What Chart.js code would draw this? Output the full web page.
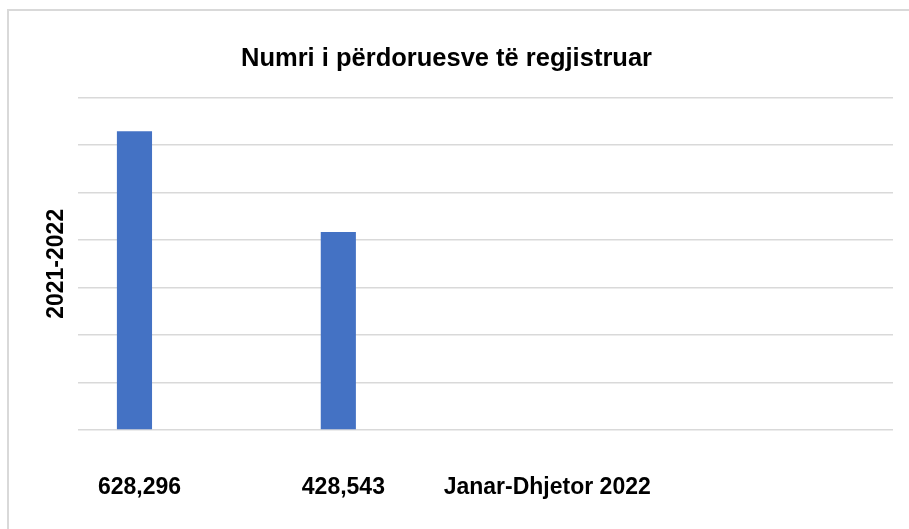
<!DOCTYPE html>
<html lang="sq">
<head>
    <meta charset="UTF-8">
    <title>Numri i përdoruesve të regjistruar</title>
    <script src="https://cdn.jsdelivr.net/npm/chart.js"></script>
    <style>
        body { margin: 0; background: #fff; overflow: hidden; }
        #frame { position: absolute; left: 7px; top: 9px; width: 1000px; height: 700px; border: 2px solid #d9d9d9; }
        #wrap { position: absolute; left: 0; top: 0; width: 909px; height: 529px; }
    </style>
</head>
<body>
    <div id="frame"></div>
    <div id="wrap"><canvas id="usersChart"></canvas></div>

    <script>
        // te dhenat
        const categories = ['628,296', '428,543', 'Janar-Dhjetor 2022', ''];
        const registeredUsers = [629000, 417000, null, null];
        const secondSeries = [null, null, null, null];
        const yTicks = [0, 100000, 200000, 300000, 400000, 500000, 600000, 700000];

        const fontFamily = "'Liberation Sans', Arial, sans-serif";

        const ctx = document.getElementById('usersChart').getContext('2d');
        const usersChart = new Chart(ctx, {
            type: 'bar',
            data: {
                labels: categories,
                datasets: [{
                    label: '2021-2022',
                    data: registeredUsers,
                    backgroundColor: '#4472C4',
                    barPercentage: 0.39,
                    categoryPercentage: 0.884
                }, {
                    label: '',
                    data: secondSeries,
                    backgroundColor: '#ED7D31',
                    barPercentage: 0.39,
                    categoryPercentage: 0.884
                }]
            },
            options: {
                responsive: true,
                maintainAspectRatio: false,
                animation: false,
                layout: {
                    padding: { left: 0, right: 16, top: 0, bottom: 27 }
                },
                plugins: {
                    legend: { display: false },
                    tooltip: { enabled: false },
                    title: {
                        display: true,
                        text: 'Numri i përdoruesve të regjistruar',
                        color: '#000',
                        font: { family: fontFamily, size: 25.5, weight: 'bold' },
                        padding: { top: 44, bottom: 23 }
                    }
                },
                scales: {
                    x: {
                        grid: { display: false, drawTicks: false },
                        border: { display: false },
                        afterFit: scale => { scale.height = 72; },
                        ticks: {
                            color: '#000',
                            font: { family: fontFamily, size: 23, weight: 'bold' },
                            padding: 44,
                            labelOffset: -40,
                            autoSkip: false,
                            maxRotation: 0,
                            minRotation: 0
                        }
                    },
                    y: {
                        min: yTicks[0],
                        max: yTicks[yTicks.length - 1],
                        afterBuildTicks: scale => {
                            scale.ticks = yTicks.map(v => ({ value: v }));
                        },
                        grid: { color: '#d9d9d9', lineWidth: 1.5, drawTicks: false },
                        border: { display: false },
                        ticks: { display: false },
                        title: {
                            display: true,
                            text: '2021-2022',
                            color: '#000',
                            font: { family: fontFamily, size: 23, weight: 'bold' },
                            padding: { top: 43, bottom: 7 }
                        }
                    }
                }
            }
        });
    </script>
</body>
</html>
